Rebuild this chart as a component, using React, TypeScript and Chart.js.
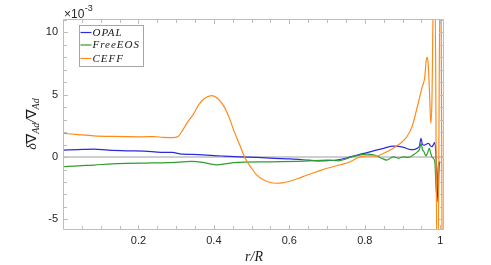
import React, { useEffect, useRef } from "react";
import { Chart, registerables } from "chart.js";

Chart.register(...registerables);

// r/R positions and δ∇Ad/∇Ad values (×10^-3)
const opalR = [0.002, 0.04, 0.082, 0.12, 0.17, 0.215, 0.26, 0.29, 0.31, 0.36, 0.4, 0.426, 0.47, 0.514, 0.56, 0.603, 0.65, 0.673, 0.7, 0.726, 0.745, 0.762, 0.785, 0.806, 0.83, 0.85, 0.876, 0.89, 0.903, 0.918, 0.929, 0.94, 0.945, 0.949, 0.953, 0.958, 0.964, 0.969, 0.974, 0.978, 0.982, 0.985, 0.988, 0.991, 0.994, 0.996, 0.998, 1.0];
const opalV = [0.56, 0.6, 0.64, 0.55, 0.5, 0.48, 0.38, 0.37, 0.26, 0.2, 0.12, 0.08, 0.02, -0.03, -0.1, -0.15, -0.25, -0.3, -0.28, -0.24, -0.12, 0.02, 0.2, 0.35, 0.55, 0.7, 0.88, 0.85, 0.78, 0.62, 0.6, 0.72, 0.9, 1.5, 1.0, 0.95, 1.05, 1.1, 0.9, 0.83, 1.0, 1.15, 0.5, -1.5, -3.6, -1.5, -0.5, -0.4];

const freeR = [0.002, 0.04, 0.082, 0.13, 0.17, 0.22, 0.26, 0.3, 0.34, 0.37, 0.39, 0.408, 0.43, 0.452, 0.48, 0.55, 0.64, 0.7, 0.73, 0.75, 0.762, 0.785, 0.806, 0.82, 0.832, 0.845, 0.858, 0.87, 0.876, 0.89, 0.903, 0.915, 0.93, 0.94, 0.945, 0.949, 0.953, 0.957, 0.962, 0.966, 0.971, 0.975, 0.978, 0.982, 0.986, 0.99, 0.993, 0.996, 1.0];
const freeV = [-0.78, -0.7, -0.64, -0.55, -0.51, -0.48, -0.46, -0.42, -0.35, -0.42, -0.55, -0.62, -0.55, -0.45, -0.4, -0.38, -0.33, -0.25, -0.3, -0.15, -0.02, 0.15, 0.24, 0.2, 0.08, -0.1, -0.24, -0.05, 0.02, -0.1, 0.02, -0.03, 0.2, 0.43, 0.6, 1.1, 0.6, 0.43, 0.1, 0.3, 0.7, 0.3, 0.0, -0.1, -0.5, -3.0, -1.5, -0.4, -0.4];

const ceffR = [0.002, 0.04, 0.082, 0.13, 0.17, 0.21, 0.24, 0.265, 0.29, 0.305, 0.32, 0.33, 0.345, 0.36, 0.375, 0.395, 0.41, 0.426, 0.44, 0.452, 0.468, 0.483, 0.5, 0.514, 0.53, 0.545, 0.567, 0.585, 0.603, 0.625, 0.647, 0.673, 0.7, 0.735, 0.76, 0.788, 0.81, 0.832, 0.85, 0.87, 0.885, 0.9, 0.912, 0.926, 0.939, 0.952, 0.959, 0.963, 0.9655, 0.968, 0.9717, 0.975, 0.978, 0.9825, 0.986, 0.9915, 0.994, 0.9995, 1.002, 1.005];
const ceffV = [1.9, 1.8, 1.7, 1.65, 1.63, 1.62, 1.64, 1.58, 1.55, 1.65, 2.3, 2.8, 3.4, 4.2, 4.7, 4.92, 4.7, 4.1, 3.2, 2.2, 1.0, -0.1, -0.9, -1.45, -1.8, -2.0, -2.1, -2.05, -1.92, -1.7, -1.44, -1.18, -0.9, -0.62, -0.4, 0.02, 0.1, 0.08, 0.3, 0.6, 0.9, 1.25, 1.65, 2.5, 4.0, 5.6, 6.4, 7.8, 8.0, 7.5, 5.1, 2.7, 4.5, 14, 14, -9, -9, 14, 14, -9];

const zeroR = [0, 1.01];
const zeroV = [0, 0];

const xTickValues = [0.2, 0.4, 0.6, 0.8, 1];
const yTickValues = [-5, 0, 5, 10];
const X_MIN = 0;
const X_MAX = 1.01;
const Y_MIN = -5.85;
const Y_MAX = 11.07;

const seriesNames = ["OPAL", "FreeEOS", "CEFF"];
const seriesColors = ["#2b2bdc", "#2f9e2f", "#ff8a1c"];

const pts = (xs: number[], ys: number[]) => xs.map((x, i) => ({ x, y: ys[i] }));

const framePlugin = {
  id: "frameTicks",
  afterDatasetsDraw(chart: any) {
    const { ctx, chartArea: a, scales } = chart;
    const xs = scales.x;
    const ys = scales.y;
    ctx.save();
    ctx.strokeStyle = "#bdbdbd";
    ctx.lineWidth = 1;
    const L = Math.round(a.left) + 0.5;
    const R = Math.round(a.right) - 0.5;
    const T = Math.round(a.top) + 0.5;
    const B = Math.round(a.bottom) - 0.5;
    ctx.beginPath();
    ctx.rect(L, T, R - L, B - T);
    ctx.stroke();
    ctx.beginPath();
    for (let k = 1; k <= 20; k++) {
      const v = k * 0.05;
      const px = Math.round(xs.getPixelForValue(v)) + 0.5;
      const len = k % 4 === 0 ? 4.5 : 3.5;
      ctx.moveTo(px, B);
      ctx.lineTo(px, B - len);
      ctx.moveTo(px, T);
      ctx.lineTo(px, T + len);
    }
    for (let v = -5; v <= 11; v++) {
      const py = Math.round(ys.getPixelForValue(v)) + 0.5;
      const len = v % 5 === 0 ? 4.5 : 3.5;
      ctx.moveTo(L, py);
      ctx.lineTo(L + len, py);
      ctx.moveTo(R, py);
      ctx.lineTo(R - len, py);
    }
    ctx.stroke();

    // legend
    const lx = 79.5, ly = 25.5, lw = 64, lh = 41;
    ctx.fillStyle = "#ffffff";
    ctx.fillRect(lx, ly, lw, lh);
    ctx.strokeStyle = "#a6a6a6";
    ctx.strokeRect(lx, ly, lw, lh);
    const rows = [32.5, 45, 58.5];
    ctx.font = "italic 11px 'Liberation Serif'";
    (ctx as any).letterSpacing = "1px";
    ctx.textBaseline = "middle";
    ctx.textAlign = "left";
    seriesNames.forEach((name, i) => {
      ctx.strokeStyle = seriesColors[i];
      ctx.lineWidth = 1.2;
      ctx.beginPath();
      ctx.moveTo(80.5, rows[i]);
      ctx.lineTo(91.5, rows[i]);
      ctx.stroke();
      ctx.fillStyle = "#1a1a1a";
      ctx.fillText(name, 92.5, rows[i] + 0.5);
    });
    (ctx as any).letterSpacing = "0px";

    // exponent label
    ctx.fillStyle = "#262626";
    ctx.textBaseline = "alphabetic";
    ctx.font = "12px 'Liberation Sans'";
    ctx.fillText("\u00d710", 64, 17.5);
    const w = ctx.measureText("\u00d710").width;
    ctx.font = "9px 'Liberation Sans'";
    ctx.fillText("-3", 64 + w + 0.5, 11);

    // x title
    ctx.font = "italic 14px 'Liberation Serif'";
    ctx.textAlign = "center";
    ctx.fillStyle = "#1a1a1a";
    ctx.fillText("r/R", 254, 261);

    // y title (rotated)
    ctx.translate(36, 124);
    ctx.rotate(-Math.PI / 2);
    const parts: [string, string, number][] = [
      ["\u03b4", "italic 14px 'Liberation Serif'", 0],
      ["\u2207", "14px 'DejaVu Sans'", 0],
      ["Ad", "italic 10px 'Liberation Serif'", 3],
      ["/", "italic 14px 'Liberation Serif'", 0],
      ["\u2207", "14px 'DejaVu Sans'", 0],
      ["Ad", "italic 10px 'Liberation Serif'", 3],
    ];
    let total = 0;
    parts.forEach(([t, f]) => {
      ctx.font = f;
      total += ctx.measureText(t).width;
    });
    let cx = -total / 2;
    ctx.textAlign = "left";
    parts.forEach(([t, f, dy]) => {
      ctx.font = f;
      ctx.fillText(t, cx, dy);
      cx += ctx.measureText(t).width;
    });
    ctx.restore();
  },
};

export default function App() {
  const ref = useRef<HTMLCanvasElement | null>(null);
  useEffect(() => {
    if (!ref.current) return;
    const common = {
      pointRadius: 0,
      borderWidth: 1.2,
      cubicInterpolationMode: "monotone" as const,
      clip: 0,
      fill: false,
    };
    const chart = new Chart(ref.current, {
      type: "line",
      data: {
        datasets: [
          { ...common, label: seriesNames[2], data: pts(ceffR, ceffV), borderColor: seriesColors[2], order: 0 },
          { ...common, label: seriesNames[1], data: pts(freeR, freeV), borderColor: seriesColors[1], order: 1 },
          { ...common, label: seriesNames[0], data: pts(opalR, opalV), borderColor: seriesColors[0], order: 2 },
          { ...common, label: "zero", data: pts(zeroR, zeroV), borderColor: "#cfcfcf", borderWidth: 2, order: 3 },
        ],
      },
      options: {
        responsive: false,
        animation: false,
        devicePixelRatio: 1,
        layout: { padding: { left: 0, top: 19, right: 47, bottom: 0 } },
        plugins: { legend: { display: false }, tooltip: { enabled: false } },
        scales: {
          x: {
            type: "linear",
            min: X_MIN,
            max: X_MAX,
            grid: { display: false, drawTicks: false },
            border: { display: false },
            afterBuildTicks: (s: any) => {
              s.ticks = xTickValues.map((v) => ({ value: v }));
            },
            afterFit: (s: any) => {
              s.height = 35;
            },
            ticks: {
              autoSkip: false,
              maxRotation: 0,
              padding: 4,
              color: "#262626",
              font: { family: "'Liberation Sans'", size: 11 },
              callback: (v: any) => String(v),
            },
          },
          y: {
            type: "linear",
            min: Y_MIN,
            max: Y_MAX,
            grid: { display: false, drawTicks: false },
            border: { display: false },
            afterBuildTicks: (s: any) => {
              s.ticks = yTickValues.map((v) => ({ value: v }));
            },
            afterFit: (s: any) => {
              s.width = 63;
            },
            ticks: {
              autoSkip: false,
              padding: 5,
              color: "#262626",
              font: { family: "'Liberation Sans'", size: 11 },
              callback: (v: any) => String(v),
            },
          },
        },
      },
      plugins: [framePlugin],
    });
    return () => chart.destroy();
  }, []);
  return (
    <div style={{ position: "fixed", left: 0, top: 0, width: 491, height: 265, background: "#fff" }}>
      <canvas ref={ref} width={491} height={265} style={{ display: "block" }} />
    </div>
  );
}
